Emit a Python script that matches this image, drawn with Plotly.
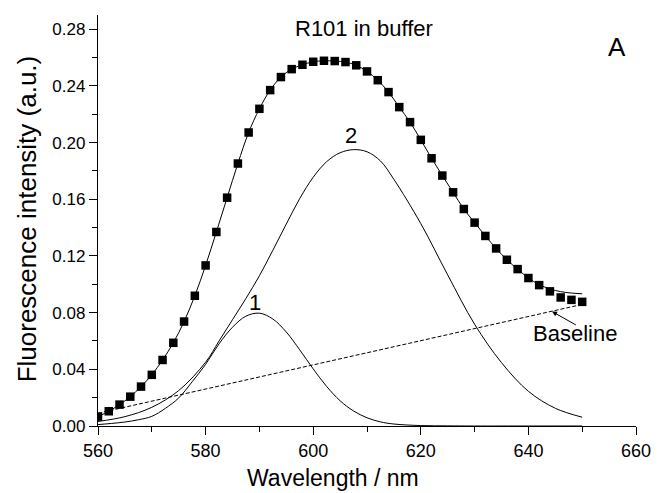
import plotly.graph_objects as go

# ---- data ----
wl = [560, 562, 564, 566, 568, 570, 572, 574, 576, 578, 580, 582, 584, 586, 588, 590,
      592, 594, 596, 598, 600, 602, 604, 606, 608, 610, 612, 614, 616, 618, 620, 622,
      624, 626, 628, 630, 632, 634, 636, 638, 640, 642, 644, 646, 648, 650]
intensity = [0.0066, 0.0104, 0.0151, 0.0207, 0.0278, 0.0361, 0.0466, 0.0587, 0.0737,
             0.0919, 0.1133, 0.1369, 0.1611, 0.1852, 0.2071, 0.2238, 0.2370, 0.2462,
             0.2518, 0.2549, 0.2570, 0.2577, 0.2575, 0.2568, 0.2545, 0.2502, 0.2440,
             0.2356, 0.2250, 0.2144, 0.2019, 0.1889, 0.1767, 0.1649, 0.1531, 0.1435,
             0.1341, 0.1253, 0.1173, 0.1107, 0.1044, 0.0994, 0.0950, 0.0907, 0.0890,
             0.0876]
fit = [0.0066, 0.0104, 0.0151, 0.0207, 0.0278, 0.0361, 0.0466, 0.0587, 0.0737,
       0.0919, 0.1133, 0.1369, 0.1611, 0.1852, 0.2071, 0.2238, 0.2370, 0.2462,
       0.2518, 0.2549, 0.2570, 0.2577, 0.2575, 0.2568, 0.2545, 0.2502, 0.2440,
       0.2356, 0.2250, 0.2144, 0.2019, 0.1889, 0.1767, 0.1649, 0.1531, 0.1435,
       0.1341, 0.1253, 0.1173, 0.1107, 0.1044, 0.0998, 0.0967, 0.0948, 0.0938,
       0.0933]

peak1_wl = [560, 562.5, 565, 567.5, 570, 572.5, 575, 577.5, 580, 582.5, 585, 587.5,
            590, 592.5, 595, 597.5, 600, 602.5, 605, 607.5, 610, 612.5, 615, 620,
            625, 630, 640, 650]
peak1 = [0.0010, 0.0018, 0.0028, 0.0044, 0.0068, 0.0124, 0.0198, 0.0312, 0.0435,
         0.0580, 0.0697, 0.0775, 0.0796, 0.0755, 0.0663, 0.0537, 0.0403, 0.0279,
         0.0178, 0.0106, 0.0058, 0.0029, 0.0014, 0.0003, 0.0001, 0.0, 0.0, 0.0]

peak2_wl = [560, 565, 570, 575, 580, 582.5, 585, 587.5, 590, 592.5, 595, 597.5, 600,
            602.5, 605, 607.5, 610, 612.5, 615, 620, 625, 630, 635, 640, 645, 650]
peak2 = [0.0032, 0.0066, 0.0132, 0.0250, 0.0450, 0.0600, 0.0750, 0.0900, 0.1060,
         0.1240, 0.1425, 0.1605, 0.1755, 0.1865, 0.1928, 0.1950, 0.1935, 0.1870,
         0.1740, 0.1428, 0.1066, 0.0718, 0.0447, 0.0245, 0.0125, 0.0062]

baseline_wl = [560, 650]
baseline = [0.0090, 0.0858]

x_ticks = [560, 580, 600, 620, 640, 660]
y_ticks = [0.00, 0.04, 0.08, 0.12, 0.16, 0.20, 0.24, 0.28]

FONT = "Arial, Liberation Sans, sans-serif"

fig = go.Figure()
fig.add_trace(go.Scatter(x=baseline_wl, y=baseline, mode="lines",
                         line=dict(color="black", width=1, dash="4px,2px")))
fig.add_trace(go.Scatter(x=peak1_wl, y=peak1, mode="lines", line_shape="spline",
                         line=dict(color="black", width=1)))
fig.add_trace(go.Scatter(x=peak2_wl, y=peak2, mode="lines", line_shape="spline",
                         line=dict(color="black", width=1)))
fig.add_trace(go.Scatter(x=wl, y=fit, mode="lines", line_shape="spline",
                         line=dict(color="black", width=1)))
fig.add_trace(go.Scatter(x=wl, y=intensity, mode="markers",
                         marker=dict(symbol="square", size=8.5, color="black",
                                     line=dict(width=0))))

ann = []
ann.append(dict(x=609.5, y=0.2806, xref="x", yref="y", text="R101 in buffer",
                showarrow=False, xanchor="center", yanchor="middle",
                font=dict(size=22, color="black", family=FONT)))
ann.append(dict(x=656.4, y=0.2674, xref="x", yref="y", text="A",
                showarrow=False, xanchor="center", yanchor="middle",
                font=dict(size=26, color="black", family=FONT)))
ann.append(dict(x=607.0, y=0.2052, xref="x", yref="y", text="2",
                showarrow=False, xanchor="center", yanchor="middle",
                font=dict(size=22, color="black", family=FONT)))
ann.append(dict(x=589.2, y=0.0874, xref="x", yref="y", text="1",
                showarrow=False, xanchor="center", yanchor="middle",
                font=dict(size=22, color="black", family=FONT)))
ann.append(dict(x=648.6, y=0.0656, xref="x", yref="y", text="Baseline",
                showarrow=False, xanchor="center", yanchor="middle",
                font=dict(size=22, color="black", family=FONT)))
ann.append(dict(x=644.4, y=0.0808, xref="x", yref="y", ax=649.1, ay=0.0707,
                axref="x", ayref="y", text="", showarrow=True, arrowhead=2,
                arrowsize=1, arrowwidth=1, arrowcolor="black", standoff=0))
ann.append(dict(x=0.4376, y=-0.126, xref="paper", yref="paper", text="Wavelength / nm",
                showarrow=False, xanchor="center", yanchor="middle",
                font=dict(size=23, color="black", family=FONT)))
ann.append(dict(x=-0.1303, y=0.505, xref="paper", yref="paper",
                text="Fluorescence intensity (a.u.)", textangle=-90,
                showarrow=False, xanchor="center", yanchor="middle",
                font=dict(size=26, color="black", family=FONT)))

fig.update_layout(
    width=663, height=493,
    margin=dict(l=98, r=20, t=15, b=67),
    paper_bgcolor="white", plot_bgcolor="white",
    showlegend=False,
    font=dict(family=FONT, color="black"),
    annotations=ann,
)
fig.update_xaxes(
    range=[560, 660], tickvals=x_ticks, ticktext=[str(v) for v in x_ticks],
    showgrid=False, zeroline=False, showline=True, linecolor="black", linewidth=1.3,
    ticks="outside", ticklen=8, tickwidth=1.2, tickcolor="black",
    tickfont=dict(size=18, color="black", family=FONT),
    minor=dict(dtick=10, tick0=560, ticks="outside", ticklen=5, tickwidth=1.2,
               tickcolor="black", showgrid=False),
)
fig.update_yaxes(
    range=[0, 0.29], tickvals=y_ticks, ticktext=["%.2f" % v for v in y_ticks],
    showgrid=False, zeroline=False, showline=True, linecolor="black", linewidth=1.3,
    ticks="outside", ticklen=8, tickwidth=1.2, tickcolor="black",
    tickfont=dict(size=17, color="black", family=FONT),
    minor=dict(dtick=0.02, tick0=0, ticks="outside", ticklen=5, tickwidth=1.2,
               tickcolor="black", showgrid=False),
)

fig.write_html("out.html",
               config={"displayModeBar": False},
               post_script="document.body.style.margin='0px';"
                           "document.body.style.overflow='hidden';")
